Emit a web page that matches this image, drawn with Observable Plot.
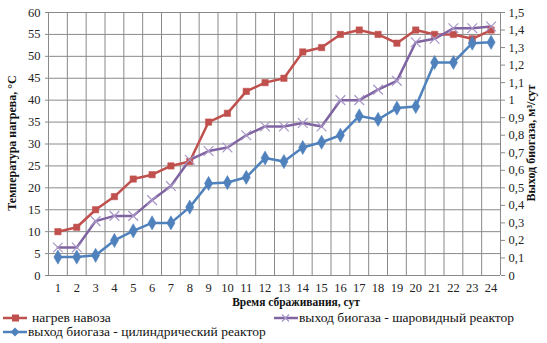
<!DOCTYPE html>
<html><head><meta charset="utf-8">
<script src="https://cdn.jsdelivr.net/npm/d3@7"></script>
<script src="https://cdn.jsdelivr.net/npm/@observablehq/plot@0.6"></script>
<style>
body{margin:0;background:#fff;}
#chart{position:relative;width:547px;height:343px;font-family:"Times New Roman","Liberation Serif","DejaVu Serif",serif;overflow:hidden;}
.leg{position:absolute;display:flex;align-items:center;font-size:13.5px;line-height:14px;white-space:nowrap;color:#111;}
.leg svg{display:block;}
</style></head><body><div id="chart"></div>
<script>
// ---- data ----
const days = [1,2,3,4,5,6,7,8,9,10,11,12,13,14,15,16,17,18,19,20,21,22,23,24];
const temperature = [10,11,15,18,22,23,25,26,35,37,42,44,45,51,52,55,56,55,53,56,55,55,54,56];
const biogasSpherical = [0.16,0.16,0.31,0.34,0.34,0.43,0.51,0.66,0.71,0.73,0.80,0.85,0.85,0.87,0.85,1.0,1.0,1.06,1.11,1.33,1.35,1.41,1.41,1.42];
const biogasCylindrical = [0.105,0.105,0.115,0.20,0.255,0.30,0.30,0.39,0.525,0.53,0.56,0.67,0.65,0.73,0.76,0.80,0.91,0.89,0.955,0.964,1.215,1.215,1.325,1.33];
const leftTicks = [0,5,10,15,20,25,30,35,40,45,50,55,60];
const rightTicks = [0,0.1,0.2,0.3,0.4,0.5,0.6,0.7,0.8,0.9,1,1.1,1.2,1.3,1.4,1.5];
const seriesNames = ["нагрев навоза","выход биогаза - шаровидный реактор","выход биогаза - цилиндрический реактор"];
const colors = {temp:"#C0504D", sph:"#8064A2", cyl:"#4F81BD"};

const K = 60 / 1.5; // right axis -> left axis scale
const fmt = v => String(Math.round(v*10)/10).replace(".", ",");
const FONT = "'Times New Roman', 'Liberation Serif', 'DejaVu Serif', serif";

const tempData = days.map((d,i)=>({day:d, y:temperature[i]}));
const sphData = days.map((d,i)=>({day:d, y:biogasSpherical[i]*K}));
const cylData = days.map((d,i)=>({day:d, y:biogasCylindrical[i]*K}));
const gridX = days.map(d=>d-0.5).concat([days[days.length-1]+0.5]);

const W=547, H=310, mT=12, mB=35, mL=48, mR=47;
const plot = Plot.plot({
  width:W, height:H, marginTop:mT, marginBottom:mB, marginLeft:mL, marginRight:mR,
  style:{fontFamily:FONT, fontSize:"12px", background:"white", color:"#000", overflow:"visible"},
  x:{domain:[0.5,24.5], axis:null},
  y:{domain:[0,60], axis:null},
  marks:[
    Plot.ruleY(leftTicks,{stroke:"#8a8a8a", strokeWidth:1}),
    Plot.ruleX(gridX,{stroke:"#8a8a8a", strokeWidth:1}),
    Plot.axisY(leftTicks,{anchor:"left", tickSize:3, tickPadding:5, label:null, stroke:"#8a8a8a", fill:"#222", fontSize:12.5, fontFamily:FONT}),
    Plot.axisY(rightTicks.map(v=>v*K),{anchor:"right", tickSize:4, tickPadding:4, label:null, stroke:"#8a8a8a", fill:"#222", fontSize:12.5, fontFamily:FONT, tickFormat:d=>fmt(d/K)}),
    Plot.axisX(days,{anchor:"bottom", tickSize:0, tickPadding:8, label:null, fill:"#222", fontSize:12.5, fontFamily:FONT}),
    Plot.line(tempData,{x:"day", y:"y", stroke:colors.temp, strokeWidth:2.5}),
    Plot.line(sphData,{x:"day", y:"y", stroke:colors.sph, strokeWidth:2.5}),
    Plot.line(cylData,{x:"day", y:"y", stroke:colors.cyl, strokeWidth:2.5}),
    Plot.dot(tempData,{x:"day", y:"y", symbol:"square", r:3.6, fill:colors.temp, stroke:colors.temp, strokeWidth:0.5}),
    Plot.dot(sphData,{x:"day", y:"y", symbol:"times", r:4.5, stroke:"#a896c6", strokeWidth:1.2}),
    Plot.dot(cylData,{x:"day", y:"y", symbol:"diamond", r:4.3, fill:colors.cyl, stroke:colors.cyl, strokeWidth:0.5})
  ]
});
const chart = document.getElementById("chart");
chart.appendChild(plot);

// axis titles
const svg = d3.select(plot);
const titleFont = "bold 12px " + FONT;
svg.append("text").attr("transform","translate(13,143) rotate(-90)").attr("text-anchor","middle")
  .attr("dominant-baseline","middle").style("font",titleFont).attr("fill","#111").text("Температура нагрева, °C");
svg.append("text").attr("transform","translate(532,143) rotate(-90)").attr("text-anchor","middle")
  .attr("dominant-baseline","middle").style("font",titleFont).attr("fill","#111").text("Выход биогаза, м³/сут");
svg.append("text").attr("x",296).attr("y",303).attr("text-anchor","middle")
  .attr("dominant-baseline","middle").style("font","bold 11.5px " + FONT).attr("fill","#111").text("Время сбраживания, сут");

// legend
function swatch(color, sym){
  let m = "";
  if(sym==="square") m = `<rect x="9" y="1.5" width="7" height="7" fill="${color}"/>`;
  if(sym==="diamond") m = `<path d="M12,0.5 L16.5,5 L12,9.5 L7.5,5Z" fill="${color}"/>`;
  if(sym==="times") m = `<path d="M8,1.5 L15,8.5 M15,1.5 L8,8.5" stroke="#a896c6" stroke-width="1.2"/>`;
  return `<svg width="24" height="10"><line x1="0" y1="5" x2="24" y2="5" stroke="${color}" stroke-width="2.5"/>${m}</svg>`;
}
const items = [
  {name:seriesNames[0], color:colors.temp, sym:"square", left:3, top:311, gap:5},
  {name:seriesNames[1], color:colors.sph, sym:"times", left:274, top:311, gap:1},
  {name:seriesNames[2], color:colors.cyl, sym:"diamond", left:3, top:325, gap:1}
];
items.forEach(it=>{
  const d = document.createElement("div");
  d.className="leg";
  d.style.left = it.left+"px"; d.style.top = it.top+"px";
  d.innerHTML = swatch(it.color,it.sym) + `<span style="margin-left:${it.gap}px">${it.name}</span>`;
  chart.appendChild(d);
});
</script>
</body></html>
